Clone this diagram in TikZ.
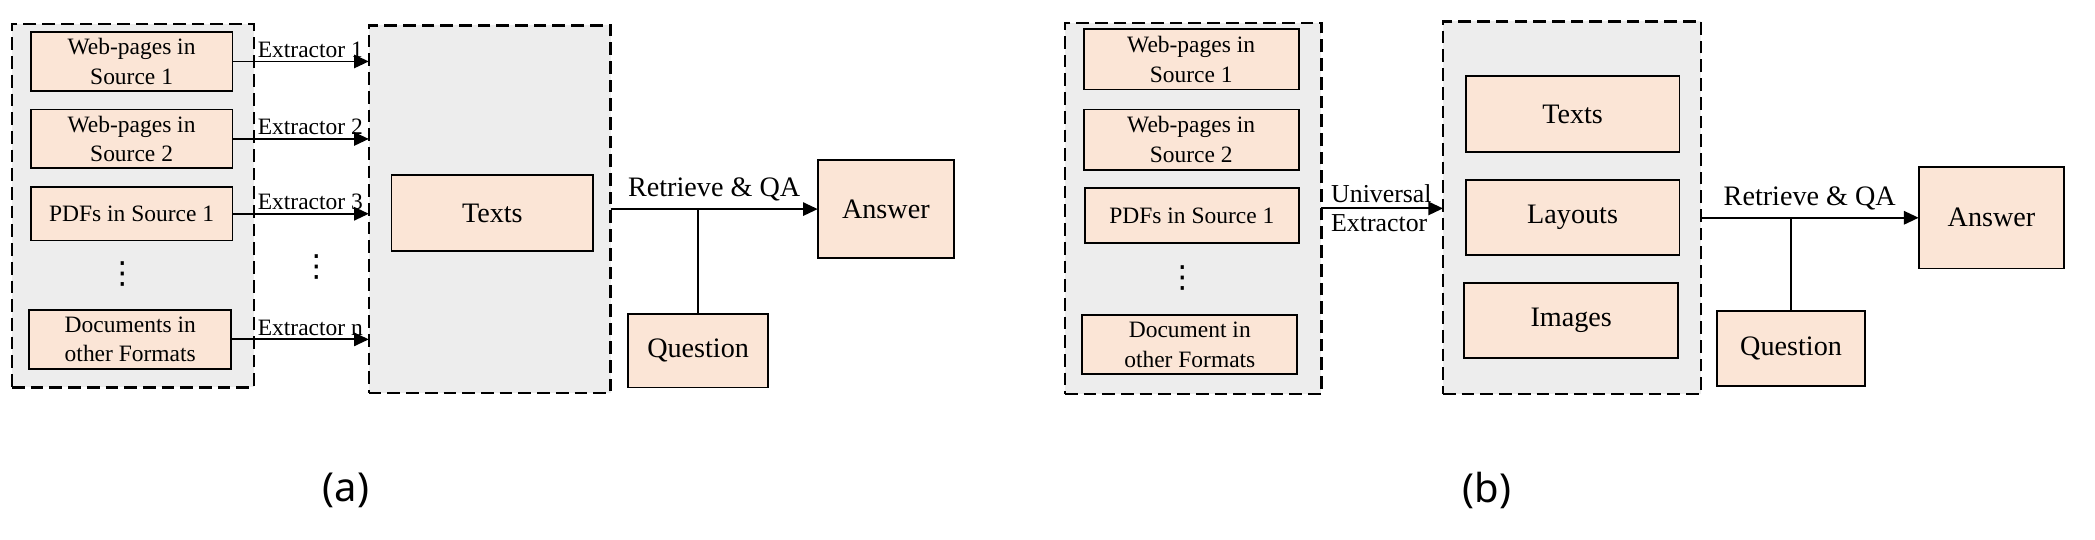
\documentclass[tikz,border=0pt]{standalone}
\usepackage{fontspec}
\setmainfont{Liberation Serif}
\newfontfamily\capfont{Noto Sans}
\newfontfamily\symfont{DejaVu Sans}
\usetikzlibrary{arrows.meta}
\definecolor{peach}{HTML}{FBE5D6}
\definecolor{panelgray}{HTML}{EDEDED}
\tikzset{
  box/.style={draw=black, line width=0.8pt, fill=peach, inner sep=0pt, outer sep=0pt, align=center, font=\fontsize{10}{12.5}\selectfont},
  bigbox/.style={box, font=\fontsize{12}{14}\selectfont},
  container/.style={draw=black, line width=0.95pt, dash pattern=on 0.19cm off 0.09cm, fill=panelgray, inner sep=0pt, outer sep=0pt},
  conn/.style={line width=0.8pt},
  arr/.style={conn, -{Triangle[length=0.22cm, width=0.2cm]}},
  extlabel/.style={anchor=south west, inner sep=1.5pt, font=\fontsize{10}{12}\selectfont},
  qalabel/.style={midway, above, inner sep=3pt, font=\fontsize{12}{14}\selectfont},
  dots/.style={font=\symfont\fontsize{13}{14}\selectfont, inner sep=0pt},
  caption/.style={font=\capfont\fontsize{17}{20}\selectfont, inner sep=0pt}
}
\begin{document}
\begin{tikzpicture}[x=0.02cm, y=-0.02cm]
\useasboundingbox (0,0) rectangle (1568,404);

% ---------------- panel (a) ----------------
\node[container, minimum width=3.62cm, minimum height=5.44cm] (La) at (99.5,154) {};
\node[container, minimum width=3.62cm, minimum height=5.50cm] (Ma) at (366.5,156.5) {};

\node[box, minimum width=3.02cm, minimum height=0.88cm] (W1a) at (98.5,46) {Web-pages in\\Source 1};
\node[box, minimum width=3.02cm, minimum height=0.88cm] (W2a) at (98.5,104) {Web-pages in\\Source 2};
\node[box, minimum width=3.02cm, minimum height=0.80cm] (P1a) at (98.5,160) {PDFs in Source 1};
\node[dots] (va) at (92,205) {⋮};
\node[box, minimum width=3.02cm, minimum height=0.88cm] (Da) at (97.5,254) {Documents in\\other Formats};

\node[bigbox, minimum width=3.02cm, minimum height=1.14cm] (Ta) at (368.5,159.5) {Texts};
\node[dots] (vma) at (237,200) {⋮};

\node[bigbox, minimum width=2.04cm, minimum height=1.46cm] (Aa) at (663,156.5) {Answer};
\node[bigbox, minimum width=2.10cm, minimum height=1.10cm] (Qa) at (522.5,262.5) {Question};

\draw[arr] (W1a.east) -- (Ma.west |- W1a.east);
\draw[arr] (W2a.east) -- (Ma.west |- W2a.east);
\draw[arr] (P1a.east) -- (Ma.west |- P1a.east);
\draw[arr] (Da.east) -- (Ma.west |- Da.east);
\node[extlabel] (e1) at (La.east |- W1a.east) {Extractor 1};
\node[extlabel] (e2) at (La.east |- W2a.east) {Extractor 2};
\node[extlabel] (e3) at (La.east |- P1a.east) {Extractor 3};
\node[extlabel] (en) at (La.east |- Da.east) {Extractor n};

\draw[arr] (Ma.east |- Aa.west) -- node[qalabel] (rqa) {Retrieve \& QA} (Aa.west);
\coordinate (ja) at (Qa.north |- Aa.west);
\draw[conn] (Qa.north) -- (ja);

\node[caption] (capa) at (259,367) {(a)};

% ---------------- panel (b) ----------------
\node[container, minimum width=3.84cm, minimum height=5.56cm] (Lb) at (893,156) {};
\node[container, minimum width=3.86cm, minimum height=5.58cm] (Rb) at (1176.5,155.5) {};

\node[box, minimum width=3.22cm, minimum height=0.90cm] (W1b) at (891.5,44.5) {Web-pages in\\Source 1};
\node[box, minimum width=3.22cm, minimum height=0.90cm] (W2b) at (891.5,104.5) {Web-pages in\\Source 2};
\node[box, minimum width=3.20cm, minimum height=0.82cm] (P1b) at (892,161.5) {PDFs in Source 1};
\node[dots] (vb) at (885,208) {⋮};
\node[box, minimum width=3.22cm, minimum height=0.88cm] (Db) at (890.5,258) {Document in\\other Formats};

\node[bigbox, minimum width=3.20cm, minimum height=1.14cm] (Tb) at (1177,85.5) {Texts};
\node[bigbox, minimum width=3.20cm, minimum height=1.12cm] (Lyb) at (1177,163) {Layouts};
\node[bigbox, minimum width=3.20cm, minimum height=1.12cm] (Ib) at (1176,240) {Images};

\node[bigbox, minimum width=2.18cm, minimum height=1.52cm] (Ab) at (1490.5,163) {Answer};
\node[bigbox, minimum width=2.22cm, minimum height=1.12cm] (Qb) at (1340.5,261) {Question};

\draw[arr] (Lb.east) -- (Rb.west |- Lb.east);
\node[anchor=west, align=left, inner sep=0pt, font=\fontsize{11}{12.5}\selectfont] (ub) at ([xshift=0.14cm]Lb.east) {Universal\\Extractor};

\draw[arr] (Rb.east |- Ab.west) -- node[qalabel] (rqb) {Retrieve \& QA} (Ab.west);
\coordinate (jb) at (Qb.north |- Ab.west);
\draw[conn] (Qb.north) -- (jb);

\node[caption] (capb) at (1113,367) {(b)};
\end{tikzpicture}
\end{document}
